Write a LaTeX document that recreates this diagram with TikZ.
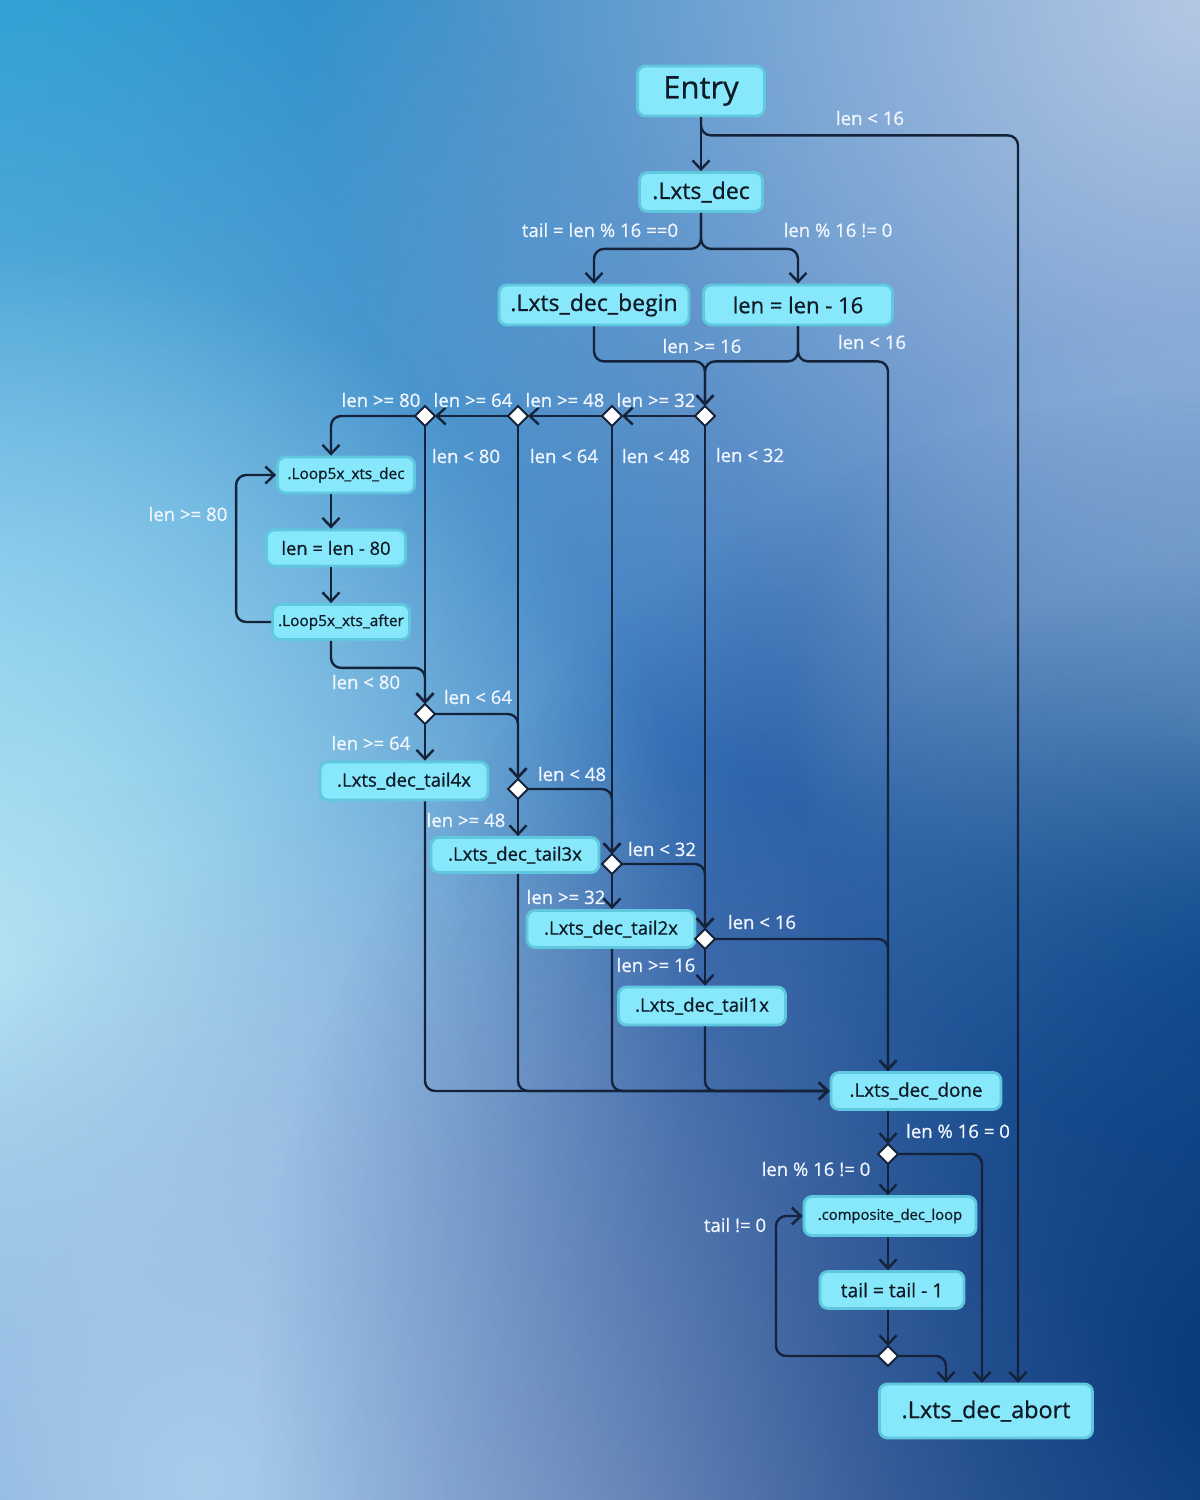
\documentclass[tikz,border=0pt]{standalone}
\usepackage{fontspec}
\setmainfont{Open Sans}[FakeBold=0.7]
\usetikzlibrary{arrows.meta,shapes.geometric,fadings,calc}
\definecolor{boxfill}{HTML}{86E8FA}
\definecolor{boxline}{HTML}{5FC8DF}
\definecolor{ink}{HTML}{0F1A26}
\definecolor{wire}{HTML}{15233A}
\definecolor{lbl}{HTML}{F2F7FF}
\definecolor{bgbase}{HTML}{3F7EC2}
\definecolor{bgcyan}{HTML}{1EA8D6}
\definecolor{bgmid}{HTML}{3A72BA}
\definecolor{bglcyan}{HTML}{B8E8F6}
\definecolor{bgleft}{HTML}{6CBCE6}
\definecolor{bgtr}{HTML}{B4C8E4}
\definecolor{bglav}{HTML}{A4ACDA}
\definecolor{bgbl}{HTML}{A8CCEC}
\definecolor{bgdark}{HTML}{073677}
\definecolor{bgstreak}{HTML}{9CC2E6}
\definecolor{bgteal}{HTML}{1560A6}
\tikzfading[name=blobfade, inner color=transparent!0, outer color=transparent!100]
\begin{document}
\begin{tikzpicture}[x=0.5pt,y=-0.5pt,
  box/.style={draw=boxline, line width=1.4pt, fill=boxfill, rounded corners=4pt, text=ink, inner sep=0pt, align=center},
  dia/.style={diamond, draw=wire, fill=white, line width=1pt, inner sep=0pt, minimum width=9pt, minimum height=9pt},
  flow/.style={draw=wire, line width=1.2pt, rounded corners=5pt, -{Straight Barb[length=4.5pt,width=8.5pt]}},
  lab/.style={text=lbl, font=\fontsize{9.3}{11}\selectfont, inner sep=0pt},
]
\useasboundingbox (0,0) rectangle (1200,1500);
% background
\fill[bgbase] (0,0) rectangle (1200,1500);
\begin{scope}
\clip (0,0) rectangle (1200,1500);
\fill[bgcyan, path fading=blobfade] (40,40) circle (1100);
\fill[bgmid, path fading=blobfade] (700,780) circle (1300);
\fill[bgleft, path fading=blobfade] (-40,640) circle (800);
\fill[bglcyan, path fading=blobfade] (-20,960) circle (720);
\fill[bgtr, path fading=blobfade] (1200,0) circle (900);
\fill[bglav, path fading=blobfade] (600,1560) circle (800);
\fill[bgbl, path fading=blobfade] (200,1480) circle (700);
\fill[bgstreak, path fading=blobfade] (1210,720) circle (420);
\fill[bgteal, path fading=blobfade, fill opacity=0.8] (1220,980) circle (420);
\fill[bgdark, path fading=blobfade] (1260,1380) circle (1000);
\end{scope}

% nodes
\node[box, minimum width=63.5pt, minimum height=25pt, font=\fontsize{15.5}{18}\selectfont] (entry) at (701,91) {Entry};
\node[box, minimum width=61.5pt, minimum height=19.5pt, font=\fontsize{11.5}{14}\selectfont] (lxd) at (701,192) {.Lxts\_dec};
\node[box, minimum width=95pt, minimum height=20pt, font=\fontsize{11.5}{14}\selectfont] (begin) at (594,305) {.Lxts\_dec\_begin};
\node[box, minimum width=94.5pt, minimum height=20pt, font=\fontsize{11}{14}\selectfont] (lm16) at (798,305) {len = len - 16};
\node[box, minimum width=68.5pt, minimum height=18pt, font=\fontsize{7.7}{10}\selectfont] (loopdec) at (346,475) {.Loop5x\_xts\_dec};
\node[box, minimum width=69.5pt, minimum height=18pt, font=\fontsize{9.2}{11}\selectfont] (lm80) at (336,548) {len = len - 80};
\node[box, minimum width=68.5pt, minimum height=17.5pt, font=\fontsize{7.7}{10}\selectfont] (loopafter) at (341,622) {.Loop5x\_xts\_after};
\node[box, minimum width=84pt, minimum height=19pt, font=\fontsize{9.3}{11}\selectfont] (tail4x) at (404,781) {.Lxts\_dec\_tail4x};
\node[box, minimum width=84pt, minimum height=17.5pt, font=\fontsize{9.3}{11}\selectfont] (tail3x) at (515,855) {.Lxts\_dec\_tail3x};
\node[box, minimum width=84pt, minimum height=18.5pt, font=\fontsize{9.3}{11}\selectfont] (tail2x) at (611,929) {.Lxts\_dec\_tail2x};
\node[box, minimum width=83.5pt, minimum height=19pt, font=\fontsize{9.3}{11}\selectfont] (tail1x) at (702,1006) {.Lxts\_dec\_tail1x};
\node[box, minimum width=85pt, minimum height=18.5pt, font=\fontsize{9.4}{11}\selectfont] (done) at (916,1091) {.Lxts\_dec\_done};
\node[box, minimum width=86pt, minimum height=19.5pt, font=\fontsize{7.4}{9}\selectfont] (comp) at (890,1216) {.composite\_dec\_loop};
\node[box, minimum width=72pt, minimum height=18.5pt, font=\fontsize{9.6}{11}\selectfont] (tm1) at (892,1290) {tail = tail - 1};
\node[box, minimum width=106.5pt, minimum height=27pt, font=\fontsize{11.7}{14}\selectfont] (abort) at (986,1411) {.Lxts\_dec\_abort};

% diamonds
\node[dia] (d32) at (705,416) {};
\node[dia] (d48) at (612,416) {};
\node[dia] (d64) at (518,416) {};
\node[dia] (d80) at (425,416) {};
\node[dia] (e64) at (425,714) {};
\node[dia] (e48) at (518,789) {};
\node[dia] (e32) at (612,864) {};
\node[dia] (e16) at (705,939) {};
\node[dia] (dm) at (888,1154) {};
\node[dia] (dt) at (888,1356) {};
\coordinate (lx) at (331,0);

% connectors
\draw[flow] (entry.south) -- (lxd.north);
\draw[flow] (entry.south) -- ++(0,18) -| ($(abort.north)+(32,0)$);
\draw[flow] (lxd.south) -- ++(0,36) -| (begin.north);
\draw[flow] (lxd.south) -- ++(0,36) -| (lm16.north);
\draw[flow] (begin.south) -- ++(0,35) -| (d32.north);
\draw[flow] (lm16.south) -- ++(0,35) -| (d32.north);
\draw[flow] (lm16.south) -- ++(0,35) -| ($(done.north)+(-28,0)$);
\draw[flow] (d32.west) -- (d48.east);
\draw[flow] (d48.west) -- (d64.east);
\draw[flow] (d64.west) -- (d80.east);
\draw[flow] (d80.west) -| (loopdec.north -| lx);
\draw[flow] (d80.south) -- (e64.north);
\draw[flow] (d64.south) -- (e48.north);
\draw[flow] (d48.south) -- (e32.north);
\draw[flow] (d32.south) -- (e16.north);
\draw[flow] (loopdec.south -| lx) -- (lm80.north -| lx);
\draw[flow] (lm80.south -| lx) -- (loopafter.north -| lx);
\draw[flow] (loopafter.west) -- ++(-35,0) |- (loopdec.west);
\draw[flow] (loopafter.south -| lx) -- ++(0,27) -| (e64.north);
\draw[flow] (e64.south) -- (e64.south |- tail4x.north);
\draw[flow] (e64.east) -| (e48.north);
\draw[flow] (e48.south) -- (e48.south |- tail3x.north);
\draw[flow] (e48.east) -| (e32.north);
\draw[flow] (e32.south) -- (e32.south |- tail2x.north);
\draw[flow] (e32.east) -| (e16.north);
\draw[flow] (e16.south) -- (e16.south |- tail1x.north);
\draw[flow] (e16.east) -| ($(done.north)+(-28,0)$);
\draw[flow] (tail4x.south -| e64) |- (done.west);
\draw[flow] (tail3x.south -| e48) |- (done.west);
\draw[flow] (tail2x.south -| e32) |- (done.west);
\draw[flow] (tail1x.south -| e16) |- (done.west);
\draw[flow] ($(done.south)+(-28,0)$) -- (dm.north);
\draw[flow] (dm.south) -- (dm.south |- comp.north);
\draw[flow] (comp.south -| dm) -- (tm1.north -| dm);
\draw[flow] (tm1.south -| dm) -- (dt.north);
\draw[flow] (dt.west) -- ++(-102,0) |- (comp.west);
\draw[flow] (dt.east) -| ($(abort.north)+(-40,0)$);
\draw[flow] (dm.east) -| ($(abort.north)+(-4,0)$);
% redraw diamonds on top
\foreach \d in {d32,d48,d64,d80,e64,e48,e32,e16,dm,dt}{
  \fill[white] (\d.north) -- (\d.east) -- (\d.south) -- (\d.west) -- cycle;
  \draw[wire, line width=1pt] (\d.north) -- (\d.east) -- (\d.south) -- (\d.west) -- cycle;
}

% labels
\node[lab] (t1) at (870,118) {len < 16};
\node[lab] (t2) at (600,230) {tail = len \% 16 ==0};
\node[lab] (t3) at (838,230) {len \% 16 != 0};
\node[lab] (t4) at (702,346) {len >= 16};
\node[lab] (t5) at (872,342) {len < 16};
\node[lab] (t6) at (381,400) {len >= 80};
\node[lab] (t7) at (473,400) {len >= 64};
\node[lab] (t8) at (565,400) {len >= 48};
\node[lab] (t9) at (656,400) {len >= 32};
\node[lab] (t10) at (466,456) {len < 80};
\node[lab] (t11) at (564,456) {len < 64};
\node[lab] (t12) at (656,456) {len < 48};
\node[lab] (t13) at (750,455) {len < 32};
\node[lab] (t14) at (188,514) {len >= 80};
\node[lab] (t15) at (366,682) {len < 80};
\node[lab] (t16) at (478,697) {len < 64};
\node[lab] (t17) at (371,743) {len >= 64};
\node[lab] (t18) at (572,774) {len < 48};
\node[lab] (t19) at (466,820) {len >= 48};
\node[lab] (t20) at (662,849) {len < 32};
\node[lab] (t21) at (566,897) {len >= 32};
\node[lab] (t22) at (762,922) {len < 16};
\node[lab] (t23) at (656,965) {len >= 16};
\node[lab] (t24) at (958,1131) {len \% 16 = 0};
\node[lab] (t25) at (816,1169) {len \% 16 != 0};
\node[lab] (t26) at (735,1225) {tail != 0};
\end{tikzpicture}
\end{document}
